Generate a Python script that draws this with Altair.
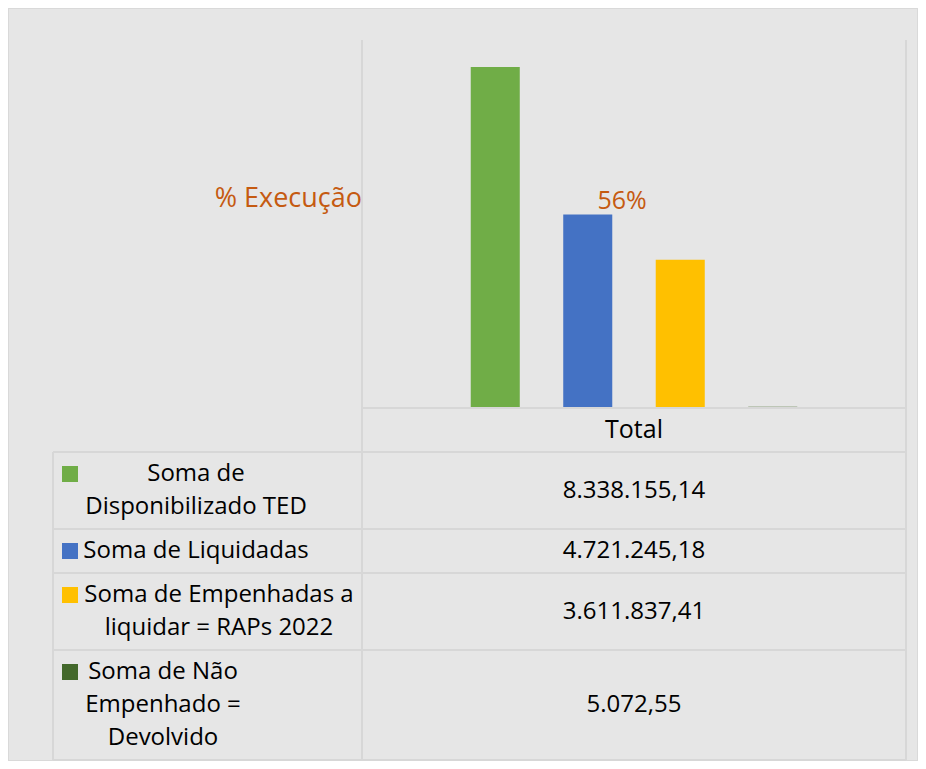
import altair as alt
import pandas as pd

# ---------------- data ----------------
category = "Total"
series = [
    "Soma de Disponibilizado TED",
    "Soma de Liquidadas",
    "Soma de Empenhadas a liquidar = RAPs 2022",
    "Soma de Não Empenhado = Devolvido",
]
legend_lines = [
    ["Soma de", "Disponibilizado TED"],
    ["Soma de Liquidadas"],
    ["Soma de Empenhadas a", "liquidar = RAPs 2022"],
    ["Soma de Não", "Empenhado =", "Devolvido"],
]
values = [8338155.14, 4721245.18, 3611837.41, 5072.55]
colors = ["#70AD47", "#4472C4", "#FFC000", "#43682B"]
pct_title = "% Execução"
pct_label = "56%"


def fmt_br(v):
    s = f"{v:,.2f}"
    return s.replace(",", "X").replace(".", ",").replace("X", ".")


# ---------------- layout (chart pixel coords) ----------------
W, H = 910, 753
BG = "#E6E6E6"
LINE = "#D7D7D7"
FONT = "Open Sans"
ORANGE = "#C55A11"
plot_left, plot_right = 354, 898
plot_top, plot_bottom = 32, 399
group_margin = 62.5
axis_y = 400
table_left = 45
table_top = 444
line_h = 33
row_pad = 11
text_cx = [188, 188, 211, 155]
key_x = 62
value_cx = (plot_left + plot_right) / 2

# table rows computed from number of text lines
row_tops, row_centers = [], []
y = table_top
for lines in legend_lines:
    h = row_pad + line_h * len(lines)
    row_tops.append(y)
    row_centers.append(y + h / 2)
    y += h
table_bottom = min(y, H - 1)

bars_df = pd.DataFrame({"series": series, "value": values, "color": colors})

first_line_y = [c - (len(l) - 1) / 2 * line_h for c, l in zip(row_centers, legend_lines)]
legend_df = pd.DataFrame({
    "text": ["\n".join(l) for l in legend_lines],
    "x": text_cx,
    "y": row_centers,
    "key_y": first_line_y,
    "color": colors,
    "value_text": [fmt_br(v) for v in values],
})

# grid rules of the data table
h_rules = [{"x": plot_left, "x2": plot_right, "y": axis_y, "y2": axis_y}]
for yy in row_tops + [table_bottom]:
    h_rules.append({"x": table_left, "x2": plot_right, "y": yy, "y2": yy})
v_rules = [
    {"x": plot_left, "x2": plot_left, "y": plot_top, "y2": table_bottom},
    {"x": plot_right, "x2": plot_right, "y": plot_top, "y2": table_bottom},
    {"x": table_left, "x2": table_left, "y": table_top, "y2": table_bottom},
]
rules_df = pd.DataFrame(h_rules + v_rules)

# ---------------- marks ----------------
bars = alt.Chart(bars_df).mark_bar().encode(
    x=alt.X("series:N", sort=series, axis=None,
            scale=alt.Scale(domain=series,
                            range=[plot_left + group_margin, plot_right - group_margin],
                            paddingInner=0.47, paddingOuter=0.5)),
    y=alt.Y("value:Q", axis=None,
            scale=alt.Scale(domain=[0, 9000000], range=[plot_bottom, plot_top], nice=False)),
    color=alt.Color("color:N", scale=None, legend=None),
)

rules = alt.Chart(rules_df).mark_rule(color=LINE, strokeWidth=2).encode(
    x=alt.X("x:Q", scale=None, axis=None),
    x2="x2:Q",
    y=alt.Y("y:Q", scale=None, axis=None),
    y2="y2:Q",
)

legend_text = alt.Chart(legend_df).mark_text(
    font=FONT, fontSize=24, color="#000000", align="center", baseline="middle",
    lineBreak="\n", lineHeight=line_h,
).encode(
    x=alt.X("x:Q", scale=None, axis=None),
    y=alt.Y("key_y:Q", scale=None, axis=None),
    text="text:N",
)

legend_keys = alt.Chart(legend_df).mark_square(size=256, opacity=1).encode(
    x=alt.value(key_x),
    y=alt.Y("key_y:Q", scale=None, axis=None),
    color=alt.Color("color:N", scale=None, legend=None),
)

value_text = alt.Chart(legend_df).mark_text(
    font=FONT, fontSize=24, color="#000000", align="center", baseline="middle",
).encode(
    x=alt.value(value_cx),
    y=alt.Y("y:Q", scale=None, axis=None),
    text="value_text:N",
)

header = alt.Chart(pd.DataFrame({"t": [category]})).mark_text(
    font=FONT, fontSize=25, color="#000000", align="center", baseline="middle",
).encode(
    x=alt.value(value_cx),
    y=alt.value((axis_y + table_top) / 2),
    text="t:N",
)

pct_title_mark = alt.Chart(pd.DataFrame({"t": [pct_title]})).mark_text(
    font=FONT, fontSize=27, color=ORANGE, align="right", baseline="alphabetic",
).encode(
    x=alt.value(plot_left),
    y=alt.value(199),
    text="t:N",
)

pct_label_mark = alt.Chart(pd.DataFrame({"t": [pct_label]})).mark_text(
    font=FONT, fontSize=25, color=ORANGE, align="center", baseline="alphabetic",
).encode(
    x=alt.value(614),
    y=alt.value(201),
    text="t:N",
)

chart = alt.layer(
    rules, bars, legend_keys, legend_text, value_text, header, pct_title_mark, pct_label_mark
).resolve_scale(
    x="independent", y="independent", color="independent"
).properties(
    width=W, height=H, padding=0, autosize=alt.AutoSizeParams(type="none"),
    background=BG,
).configure_view(
    fill=BG, stroke="#D9D9D9", strokeWidth=2,
)

chart.save("out.html", embed_options={"renderer": "svg", "actions": False})
